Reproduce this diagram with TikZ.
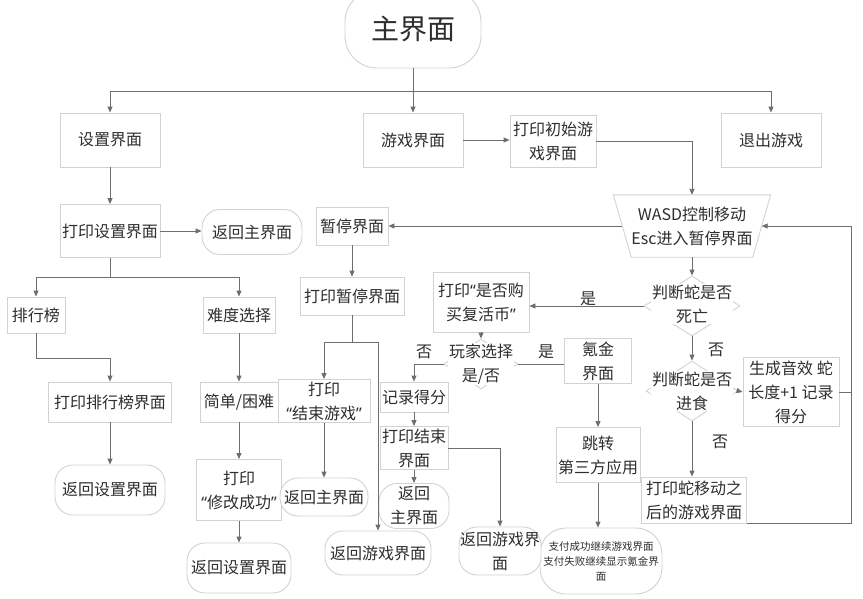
\documentclass[tikz,border=0pt]{standalone}
\usepackage{fontspec}
\setmainfont{Noto Sans CJK SC}
\newfontfamily\quotefont{Noto Sans}
\newcommand\myLQ{{\quotefont “}}
\newcommand\myRQ{{\quotefont ”}}
\usetikzlibrary{arrows.meta,shapes.geometric}
\definecolor{bordc}{HTML}{D2D2D2}
\definecolor{linec}{HTML}{6E6E6E}
\definecolor{txtc}{HTML}{2E2E2E}
\begin{document}
\begin{tikzpicture}[x=1pt,y=-1pt,
  font=\fontsize{16}{24}\selectfont, text=txtc,
  every node/.style={inner sep=0pt, align=center},
  box/.style={draw=bordc, line width=0.9pt, fill=white},
  sz/.style 2 args={minimum width=#1, minimum height=#2},
  pill/.style={box, rounded corners=#1}, pill/.default=18pt,
  dec/.style={draw=bordc, line width=0.9pt, shape=diamond, inner sep=0pt},
  dectext/.style={fill=white, inner sep=1pt},
  conn/.style={draw=linec, line width=0.9pt},
  arr/.style={conn, -{Triangle[length=6pt,width=5pt]}},
  lab/.style={font=\fontsize{16}{20}\selectfont}
]
\fill[white] (0,0) rectangle (863,598);
\useasboundingbox (0,0) rectangle (863,598);

% top
\node[box,pill=32pt,sz={136pt}{78pt},font=\fontsize{28}{30}\selectfont] (main) at (413,29) {主界面};
\node[box,sz={100pt}{54pt}] (set) at (110,140) {设置界面};
\node[box,sz={100pt}{54pt}] (game) at (413,140) {游戏界面};
\node[box,sz={86pt}{52pt}] (pinit) at (553,141) {打印初始游\\戏界面};
\node[box,sz={100pt}{54pt}] (quit) at (771,140) {退出游戏};

% settings branch
\node[box,sz={100pt}{53pt}] (pset) at (110,231) {打印设置界面};
\node[box,pill,sz={100pt}{45pt}] (bm1) at (252,232) {返回主界面};
\node[box,sz={58pt}{36pt}] (rank) at (36,315) {排行榜};
\node[box,sz={72pt}{36pt}] (diff) at (239,315) {难度选择};
\node[box,sz={123pt}{40pt}] (prank) at (110,402) {打印排行榜界面};
\node[box,pill,sz={110pt}{50pt}] (bs1) at (110,490) {返回设置界面};
\node[box,sz={78pt}{40pt}] (easy) at (239,402) {简单/困难};
\node[box,sz={85pt}{61pt}] (pmod) at (239,490) {打印\\\myLQ 修改成功\myRQ};
\node[box,pill,sz={104pt}{50pt}] (bs2) at (239,568) {返回设置界面};

% pause branch
\node[box,sz={72pt}{38pt}] (pause) at (352,226) {暂停界面};
\node[box,sz={104pt}{38pt}] (ppause) at (352,296) {打印暂停界面};
\node[box,sz={92pt}{43pt}] (pend1) at (324,401) {打印\\\myLQ 结束游戏\myRQ};
\node[box,pill,sz={88pt}{38pt}] (bm2) at (324,497) {返回主界面};
\node[box,pill,sz={106pt}{44pt}] (bg1) at (378,553) {返回游戏界面};

% game loop
\node[sz={157pt}{62pt}] (wasd) at (692,226) {WASD控制移动\\Esc进入暂停界面};
\draw[draw=bordc, line width=0.9pt] (wasd.north west) -- (wasd.north east) -- ([xshift=-18pt]wasd.south east) -- ([xshift=18pt]wasd.south west) -- cycle;
\node[dec,sz={96pt}{60pt}] (die) at (692,306) {};
\node[dectext] (diet) at (692,304) {判断蛇是否\\死亡};
\node[dec,sz={92pt}{60pt}] (eat) at (692,391) {};
\node[dectext] (eatt) at (692,391) {判断蛇是否\\进食};
\node[box,sz={96pt}{69pt}] (eff) at (791,392) {生成音效 蛇\\长度+1 记录\\得分};
\node[box,sz={105pt}{46pt}] (pmove) at (694,500) {打印蛇移动之\\后的游戏界面};

% revive branch
\node[box,sz={96pt}{60pt}] (ask) at (481,302) {打印\myLQ 是否购\\买复活币\myRQ};
\node[dec,sz={74pt}{50pt}] (ch) at (481,364) {};
\node[dectext] (cht) at (481,364) {玩家选择\\是/否};
\node[box,sz={67pt}{45pt}] (kr) at (598,361) {氪金\\界面};
\node[box,sz={84pt}{55pt}] (jump) at (598,455) {跳转\\第三方应用};
\node[box,pill=26pt,sz={122pt}{66pt},font=\fontsize{10.5}{15}\selectfont] (pay) at (601,561) {支付成功继续游戏界面\\支付失败继续显示氪金界\\面};
\node[box,sz={68pt}{30pt}] (rec) at (414,397) {记录得分};
\node[box,sz={68pt}{43pt}] (pend2) at (414,448) {打印结束\\界面};
\node[box,pill,sz={70pt}{45pt}] (bm3) at (414,506) {返回\\主界面};
\node[box,pill,sz={82pt}{48pt}] (bg2) at (500,551) {返回游戏界\\面};

% labels
\node[lab] (l1) at (588,299) {是};
\node[lab] (l2) at (716,350) {否};
\node[lab] (l3) at (720,442) {否};
\node[lab] (l4) at (424,352) {否};
\node[lab] (l5) at (546,352) {是};

% connectors
\coordinate (hb) at (413,91);
\draw[arr] (main.south) -- (game.north);
\draw[arr] (hb) -| (set.north);
\draw[arr] (hb) -| (quit.north);
\draw[arr] (game.east) -- (game.east -| pinit.west);
\draw[arr] (pinit.east) -| (wasd.north);
\draw[arr] (set) -- (pset);
\draw[arr] (pset.east) -- (pset.east -| bm1.west);
\coordinate (b2) at (110,277);
\draw[conn] (pset.south) -- (b2);
\draw[arr] (b2) -| (rank.north);
\draw[arr] (b2) -| (diff.north);
\draw[arr] (rank.south) -- ++(0,25) -| (prank.north);
\draw[arr] (prank) -- (bs1);
\draw[arr] (diff) -- (easy);
\draw[arr] (easy) -- (pmod);
\draw[arr] (pmod) -- (bs2);
\draw[arr] ([xshift=9pt]wasd.west) -- (pause.east);
\draw[arr] (pause) -- (ppause);
\coordinate (b4) at (352,342);
\draw[conn] (ppause.south) -- (b4);
\draw[arr] (b4) -| (pend1.north);
\draw[arr] (b4) -| (bg1.north);
\draw[arr] (pend1) -- (bm2);
\draw[arr] (wasd.south) -- (die.north);
\draw[arr] (die.west) -- (die.west -| ask.east);
\draw[arr] (die.south) -- (eat.north);
\draw[arr] (eat.east) -- (eff.west);
\draw[arr] (eat.south) -- (eat.south |- pmove.north);
\coordinate (lp) at (851,226);
\draw[arr] (pmove.south east) -| (lp) -- ([xshift=-9pt]wasd.east);
\draw[conn] (eff.east) -- (eff.east -| lp);
\draw[arr] (ask.south) -- (ch.north);
\draw[arr] (ch.west) -| (rec.north);
\draw[conn] (ch.east) -- (ch.east -| kr.west);
\draw[arr] (kr) -- (jump);
\draw[arr] (jump.south) -- (jump.south |- pay.north);
\draw[arr] (rec) -- (pend2);
\draw[arr] (pend2) -- (bm3);
\draw[arr] (pend2.east) -| (bg2.north);
\end{tikzpicture}
\end{document}
